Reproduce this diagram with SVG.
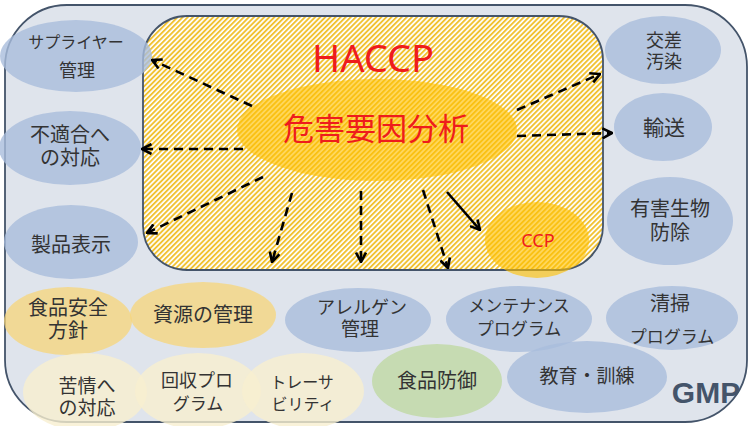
<svg xmlns="http://www.w3.org/2000/svg" width="751" height="426" viewBox="0 0 751 426">
<defs>
<pattern id="hatch" width="3.6" height="3.6" patternUnits="userSpaceOnUse" patternTransform="rotate(45)">
<rect width="3.6" height="3.6" fill="#ffffff"/>
<rect width="1.9" height="3.6" fill="#f1c232"/>
</pattern>
<marker id="arr" viewBox="0 0 12 12" refX="11" refY="6" markerWidth="12" markerHeight="12" markerUnits="userSpaceOnUse" orient="auto">
<path d="M1.5,1 L11,6 L1.5,11" fill="none" stroke="#000" stroke-width="2.6" stroke-dasharray="none"/>
</marker>
<style>
.t{font-family:"Noto Sans CJK JP","Noto Sans",sans-serif;fill:#333;text-anchor:middle}
.blue{fill:#a9bddc;fill-opacity:0.8}
.yel{fill:#f7d57a;fill-opacity:0.75}
.pale{fill:#f8efcf;fill-opacity:0.8}
.green{fill:#c6dbb2}
.dash{fill:none;stroke:#000;stroke-width:2.6;stroke-dasharray:9 6;marker-end:url(#arr)}
.solid{fill:none;stroke:#000;stroke-width:2.6;marker-end:url(#arr)}
</style>
</defs>
<g id="gmp">
<rect x="5" y="5" width="742" height="417" rx="62" ry="62" fill="#dfe4ec" stroke="#44546a" stroke-width="1.8"/>
<text x="706" y="403" style="font-family:'Liberation Sans',Arial,sans-serif;font-weight:bold;font-size:30px;fill:#44546a;text-anchor:middle">GMP</text>
</g>
<g id="haccp">
<rect x="143" y="16" width="460" height="254" rx="44" ry="44" fill="url(#hatch)" stroke="#44546a" stroke-width="1.8"/>
<text x="373" y="72" style="font-family:'Noto Sans','Liberation Sans',sans-serif;font-size:38px;fill:#ee1c1c;text-anchor:middle">HACCP</text>
</g>
<g id="hazard">
<ellipse cx="377" cy="130" rx="140" ry="51" fill="#ffc000" fill-opacity="0.62"/>
<text x="376" y="140" class="t" style="font-size:31px;fill:#ee1c1c">危害要因分析</text>
</g>
<g id="ccp">
<ellipse cx="537" cy="240" rx="52" ry="38" fill="#ffc000" fill-opacity="0.62"/>
<text x="538" y="247" style="font-family:'Noto Sans','Liberation Sans',sans-serif;font-size:18px;fill:#ee1c1c;text-anchor:middle">CCP</text>
</g>
<g id="supplier">
<ellipse cx="76" cy="56" rx="76" ry="36" class="blue"/>
<text class="t"><tspan x="76" y="48" style="font-size:16px">サプライヤー</tspan><tspan x="77" y="77" style="font-size:18px">管理</tspan></text>
</g>
<g id="nonconform">
<ellipse cx="70" cy="148" rx="71" ry="37" class="blue"/>
<text class="t" style="font-size:20px"><tspan x="70" y="142">不適合へ</tspan><tspan x="70" y="165">の対応</tspan></text>
</g>
<g id="label">
<ellipse cx="71" cy="242" rx="67" ry="37" class="blue"/>
<text x="71" y="252" class="t" style="font-size:20px">製品表示</text>
</g>
<g id="crosscont">
<ellipse cx="663" cy="50" rx="58" ry="34" class="blue"/>
<text class="t" style="font-size:18px"><tspan x="664" y="47">交差</tspan><tspan x="664" y="68">汚染</tspan></text>
</g>
<g id="transport">
<ellipse cx="663" cy="127" rx="49" ry="34" class="blue"/>
<text x="664" y="135" class="t" style="font-size:21px">輸送</text>
</g>
<g id="pest">
<ellipse cx="670" cy="221" rx="63" ry="44" class="blue"/>
<text class="t" style="font-size:20px"><tspan x="670" y="216">有害生物</tspan><tspan x="670" y="240">防除</tspan></text>
</g>
<g id="policy">
<ellipse cx="68" cy="321" rx="64" ry="34" class="yel"/>
<text class="t" style="font-size:20px"><tspan x="68" y="315">食品安全</tspan><tspan x="68" y="338">方針</tspan></text>
</g>
<g id="resource">
<ellipse cx="203" cy="315" rx="73" ry="33" class="yel"/>
<text x="203" y="322" class="t" style="font-size:20px">資源の管理</text>
</g>
<g id="allergen">
<ellipse cx="358" cy="320" rx="73" ry="32" class="blue"/>
<text class="t"><tspan x="362" y="314" style="font-size:18px">アレルゲン</tspan><tspan x="360" y="336" style="font-size:19px">管理</tspan></text>
</g>
<g id="maint">
<ellipse cx="519" cy="319" rx="73" ry="33" class="blue"/>
<text class="t" style="font-size:17px"><tspan x="519" y="312">メンテナンス</tspan><tspan x="519" y="335">プログラム</tspan></text>
</g>
<g id="clean">
<ellipse cx="672" cy="318" rx="66" ry="32" class="blue"/>
<text class="t"><tspan x="670" y="311" style="font-size:20px">清掃</tspan><tspan x="672" y="343" style="font-size:17px">プログラム</tspan></text>
</g>
<g id="complaint">
<ellipse cx="85" cy="392" rx="62" ry="39" class="pale"/>
<text class="t" style="font-size:19px"><tspan x="87" y="393">苦情へ</tspan><tspan x="87" y="415">の対応</tspan></text>
</g>
<g id="recall">
<ellipse cx="198" cy="391" rx="63" ry="38" class="pale"/>
<text class="t"><tspan x="197" y="387" style="font-size:18px">回収プロ</tspan><tspan x="198" y="410" style="font-size:17px">グラム</tspan></text>
</g>
<g id="trace">
<ellipse cx="303" cy="391" rx="61" ry="38" class="pale"/>
<text class="t" style="font-size:16px"><tspan x="302" y="388">トレーサ</tspan><tspan x="303" y="410">ビリティ</tspan></text>
</g>
<g id="defense">
<ellipse cx="437" cy="381" rx="65" ry="37" class="green"/>
<text x="437" y="388" class="t" style="font-size:20px">食品防御</text>
</g>
<g id="training">
<ellipse cx="587" cy="377" rx="80" ry="36" class="blue"/>
<text x="587" y="383" class="t" style="font-size:19px">教育・訓練</text>
</g>
<g id="connectors">
<line x1="252" y1="106" x2="152" y2="60" class="dash"/>
<line x1="243" y1="149" x2="142" y2="149" class="dash"/>
<line x1="263" y1="177" x2="147" y2="233" class="dash"/>
<line x1="292" y1="193" x2="272" y2="262" class="dash"/>
<line x1="361" y1="191" x2="361" y2="262" class="dash"/>
<line x1="423" y1="190" x2="448" y2="268" class="dash"/>
<line x1="447" y1="192" x2="480" y2="230" class="solid"/>
<line x1="517" y1="110" x2="600" y2="74" class="dash"/>
<line x1="517" y1="136" x2="612" y2="133" class="dash"/>
</g>
</svg>
